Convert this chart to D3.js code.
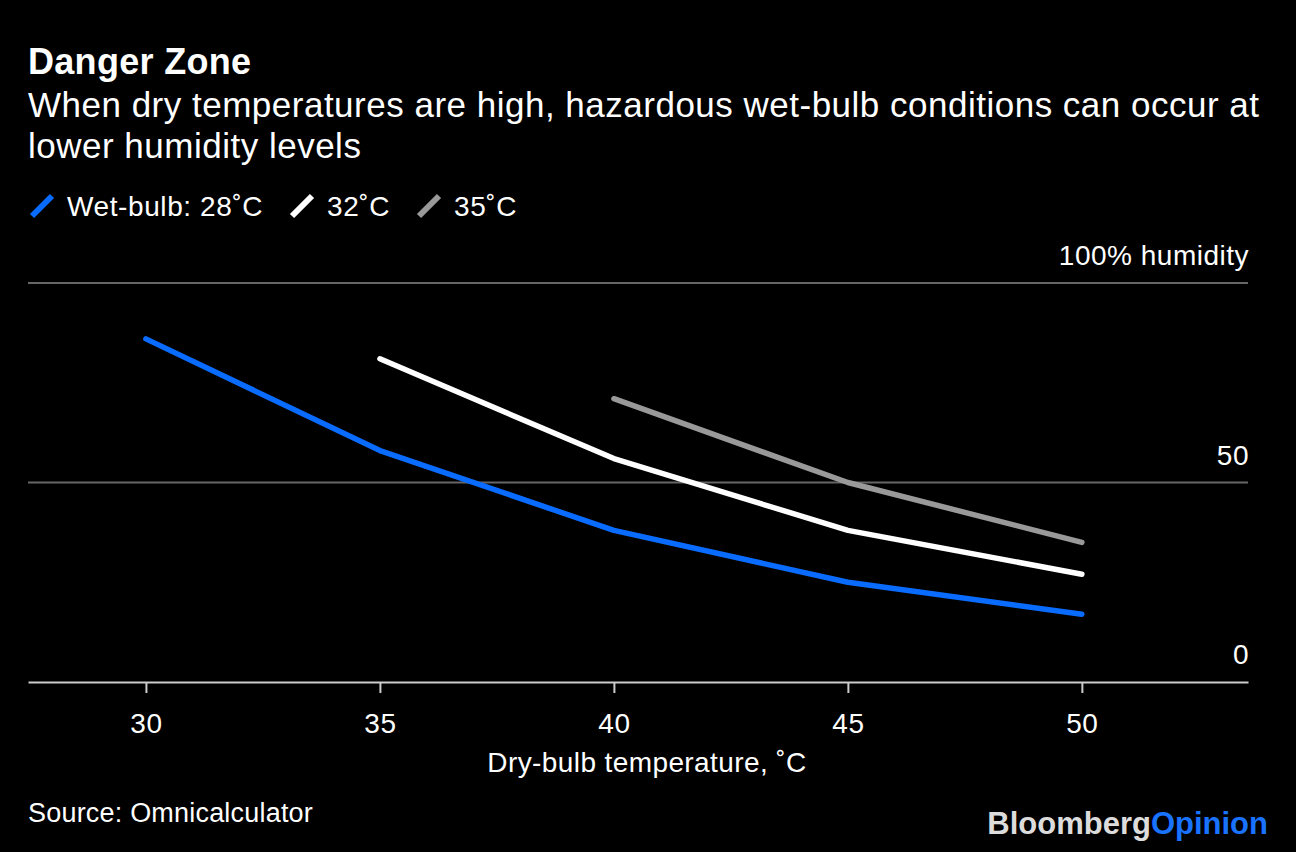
<!DOCTYPE html>
<html lang="en">
<head>
  <meta charset="UTF-8">
  <title>Danger Zone</title>
  <script src="https://d3js.org/d3.v7.min.js"></script>
  <style>
    html, body {
      margin: 0;
      padding: 0;
      background: #000;
    }
    text {
      font-family: "Liberation Sans", Arial, Helvetica, sans-serif;
      fill: #fff;
    }
  </style>
</head>
<body>

<div id="chart"></div>

<script>

// data: relative humidity (%) needed to reach each wet-bulb temp
var dryBulb = [30, 35, 40, 45, 50];
var wb28 = [86, 58, 38, 25, 17];          // starts at 30
var wb32 = [81, 56, 38, 27];              // starts at 35
var wb35 = [71, 50, 35];                  // starts at 40

var seriesNames = ["Wet-bulb: 28˚C", "32˚C", "35˚C"];
var seriesColors = ["#0a6cff", "#ffffff", "#999999"];

var xTicks = [30, 35, 40, 45, 50];
var yTicks = [0, 50, 100];
var yTickLabels = ["0", "50", "100% humidity"];

var W = 1296, H = 852;

var svg = d3.select("#chart")
  .append("svg")
    .attr("width", W)
    .attr("height", H);

svg.append("rect")
  .attr("width", W)
  .attr("height", H)
  .attr("fill", "#000");

// titles
svg.append("text")
  .attr("x", 28)
  .attr("y", 74)
  .style("font-size", "36px")
  .style("font-weight", "bold")
  .style("letter-spacing", "0.3px")
  .text("Danger Zone");

svg.append("text")
  .attr("x", 28)
  .attr("y", 117)
  .style("font-size", "35px")
  .style("letter-spacing", "0.5px")
  .text("When dry temperatures are high, hazardous wet-bulb conditions can occur at");

svg.append("text")
  .attr("x", 28)
  .attr("y", 158)
  .style("font-size", "35px")
  .style("letter-spacing", "0.5px")
  .text("lower humidity levels");

// scales
var x = d3.scaleLinear()
  .domain([27.48, 53.55])
  .range([28, 1248]);

var y = d3.scaleLinear()
  .domain([0, 100])
  .range([682, 283]);

// gridlines + right-side labels
var grid = svg.append("g");

grid.selectAll(".grid")
  .data(yTicks.filter(function(d) { return d > 0; }))
  .enter().append("line")
    .attr("class", "grid")
    .attr("x1", x.range()[0])
    .attr("x2", x.range()[1])
    .attr("y1", function(d) { return y(d); })
    .attr("y2", function(d) { return y(d); })
    .attr("stroke", "#666")
    .attr("stroke-width", 2);

grid.selectAll(".ylabel")
  .data(yTicks)
  .enter().append("text")
    .attr("class", "ylabel")
    .attr("x", 1249)
    .attr("y", function(d) { return y(d) - 18; })
    .attr("text-anchor", "end")
    .style("font-size", "28px")
    .style("letter-spacing", "0.5px")
    .text(function(d, i) { return yTickLabels[i]; });

// x axis
var xAxis = svg.append("g")
  .attr("transform", "translate(0," + y(0) + ")")
  .call(d3.axisBottom(x).tickValues(xTicks).tickSize(11).tickPadding(20).tickSizeOuter(0));

xAxis.select(".domain")
  .attr("stroke", "#ccc")
  .attr("stroke-width", 2);

xAxis.selectAll(".tick line")
  .attr("stroke", "#ccc")
  .attr("stroke-width", 2);

xAxis.selectAll(".tick text")
  .attr("fill", "#fff")
  .style("font-family", "'Liberation Sans', Arial, sans-serif")
  .style("font-size", "28px")
  .style("letter-spacing", "0.5px");

svg.append("text")
  .attr("x", 647)
  .attr("y", 772)
  .attr("text-anchor", "middle")
  .style("font-size", "28px")
  .style("letter-spacing", "0.4px")
  .text("Dry-bulb temperature, ˚C");

// lines
var series = [
  { values: wb28, start: 0 },
  { values: wb32, start: 1 },
  { values: wb35, start: 2 }
];

var line = d3.line()
  .x(function(d) { return x(d[0]); })
  .y(function(d) { return y(d[1]); });

// draw grey first so blue ends up on top
for (var s = series.length - 1; s >= 0; s--) {
  var pts = series[s].values.map(function(v, i) {
    return [dryBulb[series[s].start + i], v];
  });
  svg.append("path")
    .datum(pts)
    .attr("d", line)
    .attr("fill", "none")
    .attr("stroke", seriesColors[s])
    .attr("stroke-width", 5.5)
    .attr("stroke-linecap", "round")
    .attr("stroke-linejoin", "round");
}

// legend
var legendX = [30, 290, 417];
var legend = svg.append("g");

seriesNames.forEach(function(name, i) {
  legend.append("line")
    .attr("x1", legendX[i] + 2)
    .attr("y1", 216)
    .attr("x2", legendX[i] + 22)
    .attr("y2", 196)
    .attr("stroke", seriesColors[i])
    .attr("stroke-width", 6);
  legend.append("text")
    .attr("x", legendX[i] + 37)
    .attr("y", 216)
    .style("font-size", "28px")
    .style("letter-spacing", "0.6px")
    .text(name);
});

// footer
svg.append("text")
  .attr("x", 28)
  .attr("y", 822)
  .style("font-size", "27px")
  .style("letter-spacing", "0.2px")
  .text("Source: Omnicalculator");

var brand = svg.append("text")
  .attr("x", 1268)
  .attr("y", 834)
  .attr("text-anchor", "end")
  .style("font-size", "31px")
  .style("font-weight", "bold")
  .style("letter-spacing", "0px");

brand.append("tspan")
  .style("fill", "#dcdcdc")
  .text("Bloomberg");

brand.append("tspan")
  .style("fill", "#1a73ff")
  .text("Opinion");

</script>

</body>
</html>
